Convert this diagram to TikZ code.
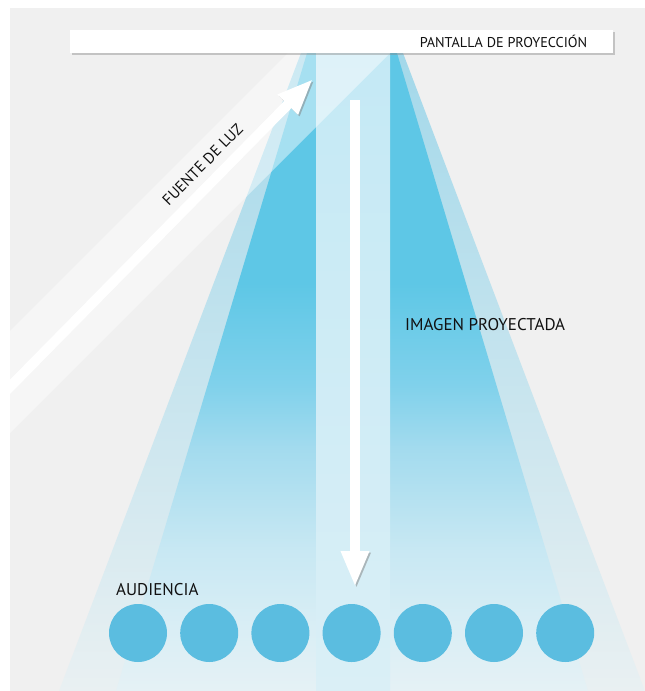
\documentclass[tikz,border=0pt]{standalone}
\usepackage{fontspec}
\setmainfont{PT Sans}
\usetikzlibrary{positioning,arrows.meta,shadows}

\definecolor{bggray}{HTML}{F0F0F0}
\definecolor{outertop}{HTML}{A3D8EA}
\definecolor{outerbot}{HTML}{E9F0F2}
\definecolor{beamdark}{HTML}{5EC7E6}
\definecolor{beamfadea}{HTML}{80D1EB}
\definecolor{beamfadeb}{HTML}{A3DBEE}
\definecolor{beamfadec}{HTML}{C8E8F3}
\definecolor{beamfaded}{HTML}{D9EEF5}
\definecolor{beamfadee}{HTML}{E5F1F5}
\definecolor{coltop}{HTML}{C4E9F5}
\definecolor{colbot}{HTML}{DAEFF6}
\definecolor{seatblue}{HTML}{5BBDE0}
\definecolor{captiontext}{HTML}{111111}

\pgfdeclareverticalshading{darkbeam}{100bp}{color(0bp)=(beamfadee); color(25bp)=(beamfadee); color(30bp)=(beamfaded); color(36bp)=(beamfadec); color(44bp)=(beamfadeb); color(49bp)=(beamfadea); color(57bp)=(beamdark); color(100bp)=(beamdark)}

\tikzset{
  seat/.style={circle,fill=seatblue,minimum size=58pt,inner sep=0pt},
  caption/.style={text=captiontext,inner sep=0pt,font=\fontsize{17}{17}\selectfont},
  screenbar/.style={fill=white,minimum width=543pt,minimum height=23pt,inner sep=0pt,
    drop shadow={shadow xshift=1.5pt,shadow yshift=-2pt,opacity=0.4}},
  lightarrow/.style={draw=white,line width=10pt,-{Triangle[length=36pt,width=26pt]},
    preaction={draw=black!50,opacity=0.5,transform canvas={shift={(1.5pt,-1.5pt)}}}}
}

\begin{document}
\begin{tikzpicture}[x=1pt,y=-1pt]
  \useasboundingbox (0,0) rectangle (645,691);
  \fill [white] (0,0) rectangle (645,691);
  \fill [bggray] (10,8) rectangle (645,691);

  \begin{scope}
    \clip (10,8) rectangle (645,691);
    % haces de luz
    \shade [top color=outertop,bottom color=outerbot] (301,53) -- (403,53) -- (645,691) -- (59,691) -- cycle;
    \shade [shading=darkbeam] (307,53) -- (397,53) -- (588,691) -- (116,691) -- cycle;
    \shade [top color=coltop,bottom color=colbot] (316,53) rectangle (390,691);
    % fuente de luz
    \fill [white,opacity=0.45] (288,53) -- (390,53) -- (0,443) -- (0,341) -- cycle;

    \coordinate (srcstart) at (0,397);
    \coordinate (srcend) at (313,79);
    \draw [lightarrow] (srcstart) -- (srcend);
  \end{scope}

  \node [screenbar,anchor=north west] at (70,30) (screen){};
  \node [caption,font=\fontsize{14.2}{14.2}\selectfont,left=26pt of screen.east] (screentext) {PANTALLA DE PROYECCIÓN};

  \coordinate (imgstart) at (355,100);
  \coordinate (imgend) at (355,587);
  \draw [lightarrow] (imgstart) -- (imgend);

  \path (srcstart) -- (srcend) node [caption,font=\fontsize{15.5}{15.5}\selectfont,pos=0.69,sloped,above=13pt] (srctext) {FUENTE DE LUZ};
  \node [caption,anchor=base west] at (405,330) (imgtext) {IMAGEN PROYECTADA};
  \node [caption,anchor=base west] at (116,595) (audtext) {AUDIENCIA};

  \node [seat] at (138,633) (s1){};
  \node [seat,right=12.8pt of s1] (s2){};
  \node [seat,right=12.8pt of s2] (s3){};
  \node [seat,right=12.8pt of s3] (s4){};
  \node [seat,right=12.8pt of s4] (s5){};
  \node [seat,right=12.8pt of s5] (s6){};
  \node [seat,right=12.8pt of s6] (s7){};
\end{tikzpicture}
\end{document}
